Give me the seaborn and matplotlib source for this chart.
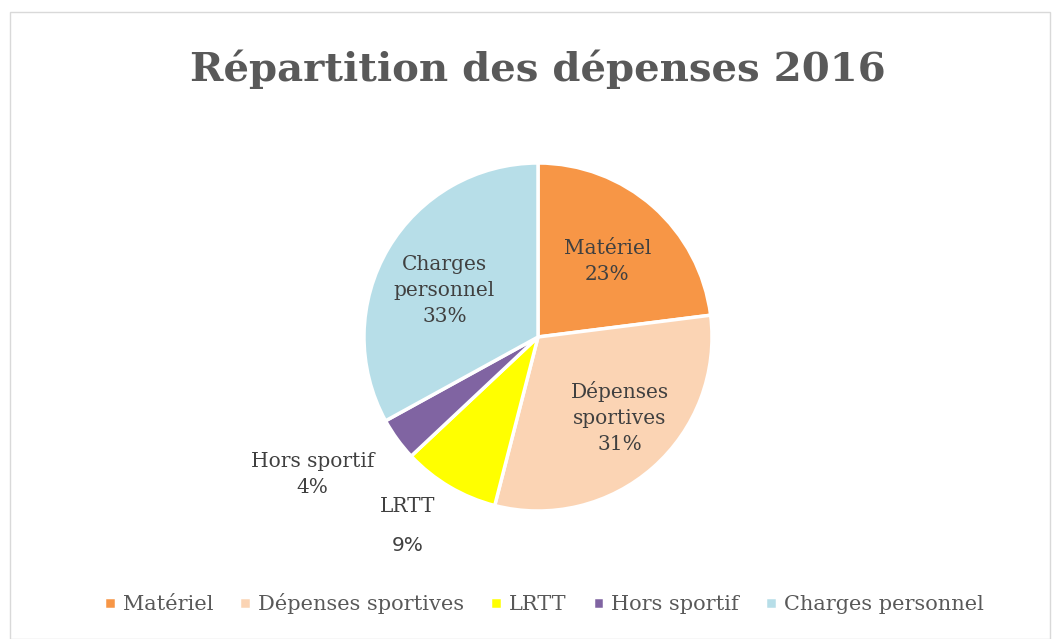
import numpy as np
import seaborn as sns
import matplotlib.pyplot as plt
from matplotlib.patches import Rectangle

# Chart data
categories = ['Matériel', 'Dépenses sportives', 'LRTT', 'Hors sportif', 'Charges personnel']
slice_labels = ['Matériel', 'Dépenses\nsportives', 'LRTT', 'Hors sportif', 'Charges\npersonnel']
shares = [23, 31, 9, 4, 33]
colors = ['#F79646', '#FBD4B4', '#FFFF00', '#8064A2', '#B7DEE8']

# Label placement per slice: distance (fraction of radius) and angle nudge (deg)
label_dist = [0.59, 0.66, 1.32, 1.52, 0.60]
label_nudge = [-1, 4, -4, -4.6, 4.3]

sns.set_theme(style='white')
plt.rcParams['font.family'] = ['DejaVu Serif']

fig = plt.figure(figsize=(10.56, 6.39), dpi=100)

# border of chart area
fig.patches.append(Rectangle((10 / 1056, 0), 1040 / 1056, (639 - 12) / 639, transform=fig.transFigure,
                             fill=False, edgecolor='#D9D9D9', linewidth=1))

pie_ax = fig.add_axes([(538 - 174) / 1056, (639 - 337 - 174) / 639, 348 / 1056, 348 / 639])
wedges, _ = pie_ax.pie(shares, colors=colors, startangle=90, counterclock=False,
                       wedgeprops=dict(edgecolor='white', linewidth=2.5))
pie_ax.set_xlim(-1, 1)
pie_ax.set_ylim(-1, 1)
pie_ax.set_aspect('equal')

for w, lab, val, d, nd in zip(wedges, slice_labels, shares, label_dist, label_nudge):
    ang = np.deg2rad((w.theta1 + w.theta2) / 2 + nd)
    x, y = d * np.cos(ang), d * np.sin(ang)
    if lab == 'LRTT':
        pie_ax.text(x, y + 0.112, lab, ha='center', va='center', fontsize=14.5, color='#404040')
        pie_ax.text(x, y - 0.112, f'{val}%', ha='center', va='center', fontsize=14.5,
                    color='#404040', family='DejaVu Sans')
    else:
        pie_ax.text(x, y, f'{lab}\n{val}%', ha='center', va='center', fontsize=14.5,
                    color='#404040', linespacing=1.45)

fig.text(538 / 1056, 1 - 69 / 639, 'Répartition des dépenses 2016', ha='center', va='center',
         fontsize=29, fontweight='bold', color='#595959')

leg = fig.legend(wedges, categories, loc='center', bbox_to_anchor=(544 / 1056, 1 - 604 / 639),
                 ncol=5, frameon=False, fontsize=15, handlelength=0.55, handleheight=0.55,
                 handletextpad=0.35, columnspacing=1.25)
for t in leg.get_texts():
    t.set_color('#595959')

fig.savefig('out.png', dpi=100)
